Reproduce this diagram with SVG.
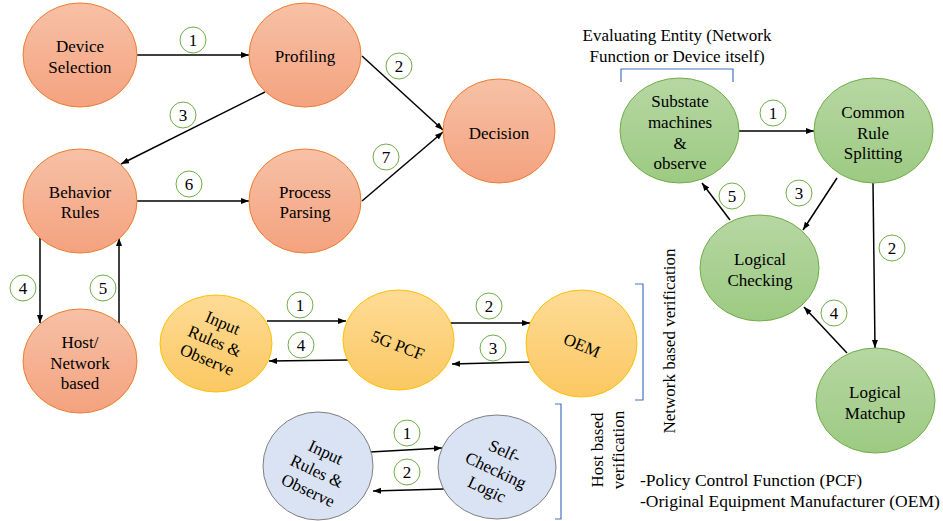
<svg xmlns="http://www.w3.org/2000/svg" width="943" height="521" viewBox="0 0 943 521" font-family="Liberation Serif, DejaVu Serif, serif">
<defs>
<linearGradient id="gO" x1="0" y1="0" x2="0" y2="1"><stop offset="0" stop-color="#f7c1a6"/><stop offset="1" stop-color="#f4a27f"/></linearGradient>
<linearGradient id="gY" x1="0" y1="0" x2="0" y2="1"><stop offset="0" stop-color="#fedb96"/><stop offset="1" stop-color="#fbc862"/></linearGradient>
<linearGradient id="gG" x1="0" y1="0" x2="0" y2="1"><stop offset="0" stop-color="#b6d7a3"/><stop offset="1" stop-color="#9dca82"/></linearGradient>
<marker id="ah" markerUnits="userSpaceOnUse" markerWidth="9" markerHeight="7" refX="8" refY="3" orient="auto"><path d="M0,0 L8,3 L0,6 z" fill="#000"/></marker>
<style>
text{font-family:'Liberation Serif','DejaVu Serif',serif;font-size:17px;fill:#000;text-anchor:middle}
.o{fill:url(#gO);stroke:#ed7d31;stroke-width:1}
.y{fill:url(#gY);stroke:#ffc000;stroke-width:1}
.g{fill:url(#gG);stroke:#70ad47;stroke-width:1}
.b{fill:#dae3f3;stroke:#7f7f7f;stroke-width:1}
.lb{fill:#fff;stroke:#70ad47;stroke-width:1}
.c{stroke:#000;stroke-width:1.5;fill:none;marker-end:url(#ah)}
.br{stroke:#4472c4;stroke-width:1.2;fill:none}
.lg{text-anchor:start;font-size:17.5px}
</style>
</defs>

<g id="connectors">
<path class="c" d="M137,55 L249,55"/>
<path class="c" d="M362,56 L443,130"/>
<path class="c" d="M265,92 L121,164"/>
<path class="c" d="M137,201 L249,201"/>
<path class="c" d="M362,201 L443,132"/>
<path class="c" d="M40,238 L40,323"/>
<path class="c" d="M119,325 L119,238"/>
<path class="c" d="M267,321 L346,321"/>
<path class="c" d="M348,360 L269,361"/>
<path class="c" d="M449,323 L530,323"/>
<path class="c" d="M532,362 L452,364"/>
<path class="c" d="M370,452 L442,448"/>
<path class="c" d="M444,489 L373,491"/>
<path class="c" d="M739,131 L814,131"/>
<path class="c" d="M873,183 L875,348"/>
<path class="c" d="M837,178 L803,230"/>
<path class="c" d="M847,353 L804,307"/>
<path class="c" d="M730,220 L702,183"/>
</g>

<g id="labels">
<circle class="lb" cx="193" cy="40" r="13"/><text x="193" y="46">1</text>
<circle class="lb" cx="399" cy="66" r="13"/><text x="399" y="72">2</text>
<circle class="lb" cx="183" cy="115" r="13"/><text x="183" y="121">3</text>
<circle class="lb" cx="189" cy="184" r="13"/><text x="189" y="190">6</text>
<circle class="lb" cx="386" cy="157" r="13"/><text x="386" y="163">7</text>
<circle class="lb" cx="23" cy="288" r="13"/><text x="23" y="294">4</text>
<circle class="lb" cx="103" cy="288" r="13"/><text x="103" y="294">5</text>
<circle class="lb" cx="300" cy="305" r="13"/><text x="300" y="311">1</text>
<circle class="lb" cx="301" cy="345" r="13"/><text x="301" y="351">4</text>
<circle class="lb" cx="489" cy="306" r="13"/><text x="489" y="312">2</text>
<circle class="lb" cx="493" cy="348" r="13"/><text x="493" y="354">3</text>
<circle class="lb" cx="407" cy="433" r="13"/><text x="407" y="439">1</text>
<circle class="lb" cx="407" cy="472" r="13"/><text x="407" y="478">2</text>
<circle class="lb" cx="773" cy="113" r="13"/><text x="773" y="119">1</text>
<circle class="lb" cx="799" cy="193" r="13"/><text x="799" y="199">3</text>
<circle class="lb" cx="732" cy="196" r="13"/><text x="732" y="202">5</text>
<circle class="lb" cx="892" cy="248" r="13"/><text x="892" y="254">2</text>
<circle class="lb" cx="834" cy="313" r="13"/><text x="834" y="319">4</text>
</g>

<g id="device-selection"><ellipse class="o" cx="80" cy="55" rx="57" ry="52"/><text x="80" y="52">Device</text><text x="80" y="73">Selection</text></g>
<g id="profiling"><ellipse class="o" cx="305" cy="55" rx="56" ry="52"/><text x="305" y="62">Profiling</text></g>
<g id="decision"><ellipse class="o" cx="499" cy="131" rx="56" ry="52"/><text x="499" y="139">Decision</text></g>
<g id="behavior-rules"><ellipse class="o" cx="80" cy="201" rx="57" ry="52"/><text x="80" y="198">Behavior</text><text x="80" y="218">Rules</text></g>
<g id="process-parsing"><ellipse class="o" cx="305" cy="201" rx="56" ry="52"/><text x="305" y="198">Process</text><text x="305" y="218">Parsing</text></g>
<g id="host-network"><ellipse class="o" cx="80" cy="361" rx="57" ry="52"/><text x="80" y="348">Host/</text><text x="80" y="369">Network</text><text x="80" y="389">based</text></g>

<g id="input-yellow"><ellipse class="y" cx="216" cy="343.5" rx="56" ry="48.5"/><g transform="rotate(23 215 341)"><text x="215" y="327">Input</text><text x="215" y="347">Rules &amp;</text><text x="215" y="367">Observe</text></g></g>
<g id="pcf"><ellipse class="y" cx="398.5" cy="340" rx="55.5" ry="50"/><text x="398" y="351" transform="rotate(21 398 345)">5G PCF</text></g>
<g id="oem"><ellipse class="y" cx="581.5" cy="343.5" rx="55.5" ry="53.5"/><text x="582" y="351" transform="rotate(23 582 345)">OEM</text></g>

<g id="input-blue"><ellipse class="b" cx="318" cy="466" rx="55" ry="54"/><g transform="rotate(25 317 471)"><text x="317" y="456">Input</text><text x="317" y="477">Rules &amp;</text><text x="317" y="498">Observe</text></g></g>
<g id="self-checking"><ellipse class="b" cx="497" cy="467" rx="59" ry="52"/><g transform="rotate(25 496 470)"><text x="496" y="455">Self-</text><text x="496" y="476">Checking</text><text x="496" y="497">Logic</text></g></g>

<g id="substate"><ellipse class="g" cx="679.5" cy="130.5" rx="59.5" ry="52.5"/><text x="680" y="107">Substate</text><text x="680" y="128">machines</text><text x="680" y="149">&amp;</text><text x="680" y="169">observe</text></g>
<g id="common-rule"><ellipse class="g" cx="873.5" cy="130.5" rx="59.5" ry="52.5"/><text x="873" y="118">Common</text><text x="873" y="139">Rule</text><text x="873" y="159">Splitting</text></g>
<g id="logical-checking"><ellipse class="g" cx="759.5" cy="268" rx="59.5" ry="53"/><text x="760" y="265">Logical</text><text x="760" y="286">Checking</text></g>
<g id="logical-matchup"><ellipse class="g" cx="875.5" cy="400.5" rx="59.5" ry="52.5"/><text x="875" y="398">Logical</text><text x="875" y="419">Matchup</text></g>

<g id="annotations">
<path class="br" d="M621,82 L621,69 L733,69 L733,82"/>
<path class="br" d="M635,284 L643,284 L643,400 L635,400"/>
<path class="br" d="M555,404 L561,404 L561,519 L555,519"/>
<text x="677" y="41">Evaluating Entity (Network</text>
<text x="677" y="62">Function or Device itself)</text>
<text x="669" y="347" transform="rotate(-90 669 341)">Network based verification</text>
<text x="597" y="456" transform="rotate(-90 597 450)">Host based</text>
<text x="618" y="456" transform="rotate(-90 618 450)">verification</text>
<text class="lg" x="640" y="486">-Policy Control Function (PCF)</text>
<text class="lg" x="640" y="507">-Original Equipment Manufacturer (OEM)</text>
</g>
</svg>
